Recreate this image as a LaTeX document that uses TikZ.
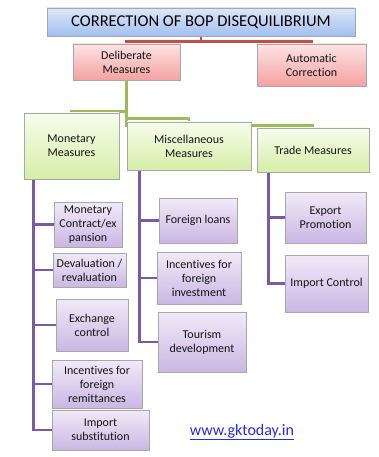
\documentclass[tikz,border=0pt]{standalone}
\usepackage{fontspec}
\setmainfont{Carlito}[Ligatures=NoCommon]
\usetikzlibrary{shadows,backgrounds}
\definecolor{titletop}{HTML}{DCE7FA}
\definecolor{titlebot}{HTML}{A3BFF0}
\definecolor{pinktop}{HTML}{FDE3E3}
\definecolor{pinkbot}{HTML}{F4A2A2}
\definecolor{greentop}{HTML}{F7FCEC}
\definecolor{greenbot}{HTML}{D6EEA8}
\definecolor{purptop}{HTML}{F1EAF8}
\definecolor{purpbot}{HTML}{C9B7E3}
\definecolor{redline}{HTML}{C0504D}
\definecolor{greenline}{HTML}{9BBB59}
\definecolor{purpline}{HTML}{7A5AA2}
\definecolor{boxedge}{HTML}{A8A8A8}
\definecolor{txt}{HTML}{141414}
\definecolor{urlblue}{HTML}{2A2AE8}
\tikzset{
  box/.style={draw=boxedge, line width=0.6pt, align=center, text=txt,
    inner sep=1pt, font=\fontsize{12}{14}\selectfont,
    drop shadow={shadow xshift=1.2pt, shadow yshift=-1.2pt, opacity=0.45, fill=black!70}},
  titlebox/.style={box, top color=titletop, bottom color=titlebot, text=black,
    font=\fontsize{16.5}{18}\selectfont},
  pinkbox/.style={box, top color=pinktop, bottom color=pinkbot},
  greenbox/.style={box, top color=greentop, bottom color=greenbot},
  purpbox/.style={box, top color=purptop, bottom color=purpbot},
  rl/.style={draw=redline, line width=2.5pt},
  gl/.style={draw=greenline, line width=2.5pt},
  pl/.style={draw=purpline, line width=2.5pt},
}
\begin{document}
\begin{tikzpicture}[x=1pt,y=-1pt]
\useasboundingbox (0,0) rectangle (379,457);
% level 0
\node[titlebox, minimum width=308pt, minimum height=28pt] (title) at (201,22) {CORRECTION OF BOP DISEQUILIBRIUM};
% level 1
\node[pinkbox, minimum width=107pt, minimum height=36pt] (delib) at (126.5,62) {Deliberate\\Measures};
\node[pinkbox, minimum width=109pt, minimum height=42pt] (auto) at (311.5,65) {Automatic\\Correction};
% level 2
\node[greenbox, minimum width=95pt, minimum height=66pt] (monetary) at (71.5,146) {Monetary\\Measures};
\node[greenbox, minimum width=124pt, minimum height=48pt] (misc) at (189,146) {Miscellaneous\\Measures};
\node[greenbox, minimum width=112pt, minimum height=44pt] (trade) at (313,150) {Trade Measures};
% monetary children
\node[purpbox, minimum width=68pt, minimum height=45pt] (mc) at (88,224.5) {Monetary\\Contract/ex\\pansion};
\node[purpbox, minimum width=73pt, minimum height=34pt] (deval) at (89.5,270) {Devaluation /\\revaluation};
\node[purpbox, minimum width=72pt, minimum height=52pt] (exch) at (92,325) {Exchange\\control};
\node[purpbox, minimum width=90pt, minimum height=48pt] (remit) at (97,384) {Incentives for\\foreign\\remittances};
\node[purpbox, minimum width=97pt, minimum height=40pt] (imps) at (100.5,430) {Import\\substitution};
% misc children
\node[purpbox, minimum width=78pt, minimum height=45pt] (floans) at (198,220.5) {Foreign loans};
\node[purpbox, minimum width=84pt, minimum height=52pt] (finv) at (199,278) {Incentives for\\foreign\\investment};
\node[purpbox, minimum width=88pt, minimum height=60pt] (tour) at (202,342) {Tourism\\development};
% trade children
\node[purpbox, minimum width=81pt, minimum height=51pt] (exp) at (325.5,217.5) {Export\\Promotion};
\node[purpbox, minimum width=83pt, minimum height=57pt] (impc) at (326.5,283.5) {Import Control};
% url
\node[font=\fontsize{16}{18}\selectfont, text=urlblue] (url) at (242,432) {\underline{www.gktoday.in}};
% connectors
\begin{scope}[on background layer]
\fill[white] (0,0) rectangle (379,457);
\draw[rl] (title.south) |- ([yshift=2pt]delib.north) -- (delib.north);
\draw[rl] (title.south) |- ([yshift=2pt]auto.north) -- (auto.north);
\draw[gl] (delib.south) |- ([yshift=1pt]monetary.north) -- (monetary.north);
\draw[gl] (delib.south) |- ([yshift=3pt]misc.north) -- (misc.north);
\draw[gl] (delib.south) |- ([yshift=2pt]trade.north) -- (trade.north);
\draw[pl] ([xshift=10pt]monetary.south west) |- (mc.west);
\draw[pl] ([xshift=10pt]monetary.south west) |- (deval.west);
\draw[pl] ([xshift=10pt]monetary.south west) |- (exch.west);
\draw[pl] ([xshift=10pt]monetary.south west) |- (remit.west);
\draw[pl] ([xshift=10pt]monetary.south west) |- (imps.west);
\draw[pl] ([xshift=13pt]misc.south west) |- (floans.west);
\draw[pl] ([xshift=13pt]misc.south west) |- (finv.west);
\draw[pl] ([xshift=13pt]misc.south west) |- (tour.west);
\draw[pl] ([xshift=12pt]trade.south west) |- (exp.west);
\draw[pl] ([xshift=12pt]trade.south west) |- (impc.west);
\end{scope}
\end{tikzpicture}
\end{document}
